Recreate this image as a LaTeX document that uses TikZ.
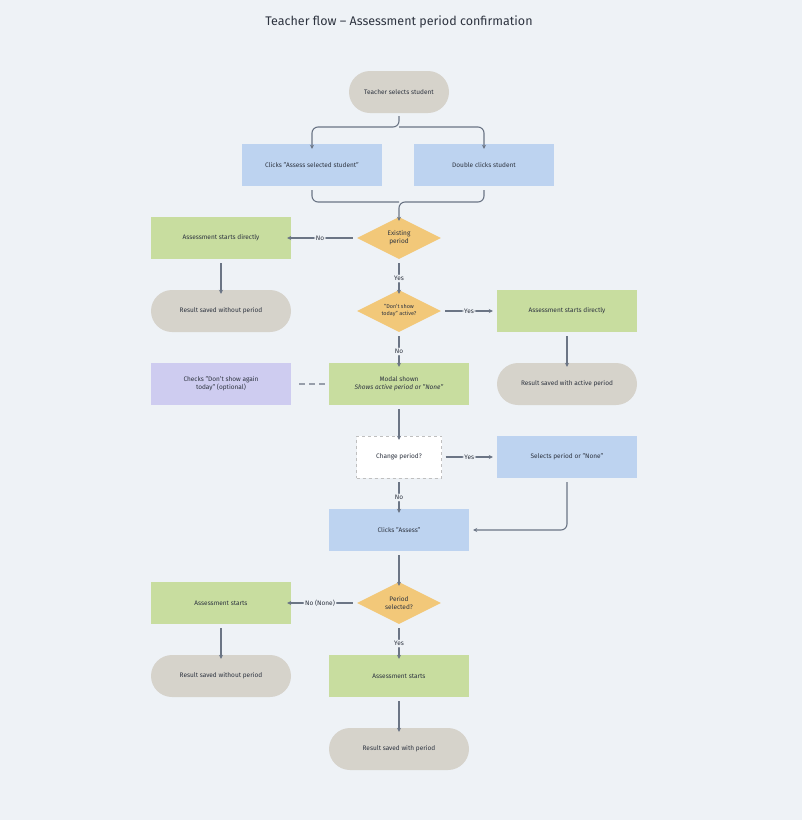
\documentclass[tikz,border=0pt]{standalone}
\usepackage{fontspec}
\setmainfont{Fira Sans}
\usetikzlibrary{shapes.geometric,shapes.misc,arrows.meta}
\definecolor{bg}{HTML}{EEF2F6}
\definecolor{gr}{HTML}{D6D3CB}
\definecolor{bl}{HTML}{BDD3F0}
\definecolor{gn}{HTML}{C8DD9F}
\definecolor{og}{HTML}{F2C879}
\definecolor{pu}{HTML}{CECCF0}
\definecolor{ln}{HTML}{6B7585}
\definecolor{tx}{HTML}{2E3440}
\begin{document}
\begin{tikzpicture}[x=1pt,y=-1pt,
  base/.style={font=\fontsize{6.5}{8}\selectfont,text=tx,align=center,inner sep=0pt},
  box/.style={base,rectangle,minimum width=140,minimum height=42},
  term/.style={base,rounded rectangle,minimum width=140,minimum height=42,fill=gr},
  dia/.style={base,diamond,aspect=2,minimum width=84,minimum height=42,fill=og},
  ar/.style={draw=ln,line width=1.1pt,-{Stealth[length=4pt,width=4pt]},rounded corners=6pt},
  lab/.style={base,fill=bg,inner sep=1.5pt,font=\fontsize{6.5}{8}\selectfont}]
\fill[bg] (0,0) rectangle (802,820);
\node[text=tx,font=\fontsize{12.5}{14}\selectfont] (title) at (399,22) {Teacher flow – Assessment period confirmation};
\node[term,minimum width=100] (ts) at (399,92) {Teacher selects student};
\node[box,fill=bl] (ca) at (312,165) {Clicks "Assess selected student"};
\node[box,fill=bl] (dc) at (484,165) {Double clicks student};
\node[dia] (ep) at (399,238) {Existing\\period};
\node[box,fill=gn] (asl) at (221,238) {Assessment starts directly};
\node[term] (rwl) at (221,311) {Result saved without period};
\node[dia,font=\fontsize{5.5}{7}\selectfont] (ds) at (399,311) {"Don't show\\today" active?};
\node[box,fill=gn] (asr) at (567,311) {Assessment starts directly};
\node[term] (rap) at (567,384) {Result saved with active period};
\node[box,fill=gn] (ms) at (399,384) {Modal shown\\\textit{Shows active period or "None"}};
\node[box,fill=pu] (ck) at (221,384) {Checks "Don't show again\\today" (optional)};
\node[box,fill=white,draw=gray!50,dashed,minimum width=85] (cp) at (399,457) {Change period?};
\node[box,fill=bl] (sp) at (567,457) {Selects period or "None"};
\node[box,fill=bl] (cas) at (399,530) {Clicks "Assess"};
\node[dia] (ps) at (399,603) {Period\\selected?};
\node[box,fill=gn] (asl2) at (221,603) {Assessment starts};
\node[term] (rwl2) at (221,676) {Result saved without period};
\node[box,fill=gn] (as2) at (399,676) {Assessment starts};
\node[term] (rwp) at (399,749) {Result saved with period};
% top split
\coordinate (sp1) at (399,127);
\draw[ar] ([yshift=-3]ts.south) -- (sp1) -| ([yshift=-5]ca.north);
\draw[ar] (sp1) -| ([yshift=-5]dc.north);
\coordinate (mg) at (399,202);
\draw[ar,-] ([yshift=-4]ca.south) |- (mg);
\draw[ar] ([yshift=-4]dc.south) |- (mg) -- ([yshift=-4]ep.north);
\draw[ar] ([xshift=-4]ep.west) -- node[lab]{No} ([xshift=-4]asl.east);
\draw[ar] ([yshift=-4]asl.south) -- ([yshift=-4]rwl.north);
\draw[ar] ([yshift=-4]ep.south) -- node[lab]{Yes} ([yshift=-4]ds.north);
\draw[ar] ([xshift=4]ds.east) -- node[lab]{Yes} ([xshift=-4]asr.west);
\draw[ar] ([yshift=-4]asr.south) -- ([yshift=-4]rap.north);
\draw[ar] ([yshift=-4]ds.south) -- node[lab]{No} ([yshift=-4]ms.north);
\draw[draw=ln!70,line width=1.1pt,dash pattern=on 6pt off 4pt] ([xshift=-4]ms.west) -- ([xshift=4]ck.east);
\draw[ar] ([yshift=-4]ms.south) -- ([yshift=-4]cp.north);
\draw[ar] ([xshift=4]cp.east) -- node[lab]{Yes} ([xshift=-4]sp.west);
\draw[ar] ([yshift=-4]cp.south) -- node[lab]{No} ([yshift=-4]cas.north);
\draw[ar] ([yshift=-4]sp.south) |- ([xshift=4]cas.east);
\draw[ar] ([yshift=-4]cas.south) -- ([yshift=-4]ps.north);
\draw[ar] ([xshift=-4]ps.west) -- node[lab]{No (None)} ([xshift=-4]asl2.east);
\draw[ar] ([yshift=-4]asl2.south) -- ([yshift=-4]rwl2.north);
\draw[ar] ([yshift=-4]ps.south) -- node[lab]{Yes} ([yshift=-4]as2.north);
\draw[ar] ([yshift=-4]as2.south) -- ([yshift=-4]rwp.north);
\end{tikzpicture}
\end{document}
